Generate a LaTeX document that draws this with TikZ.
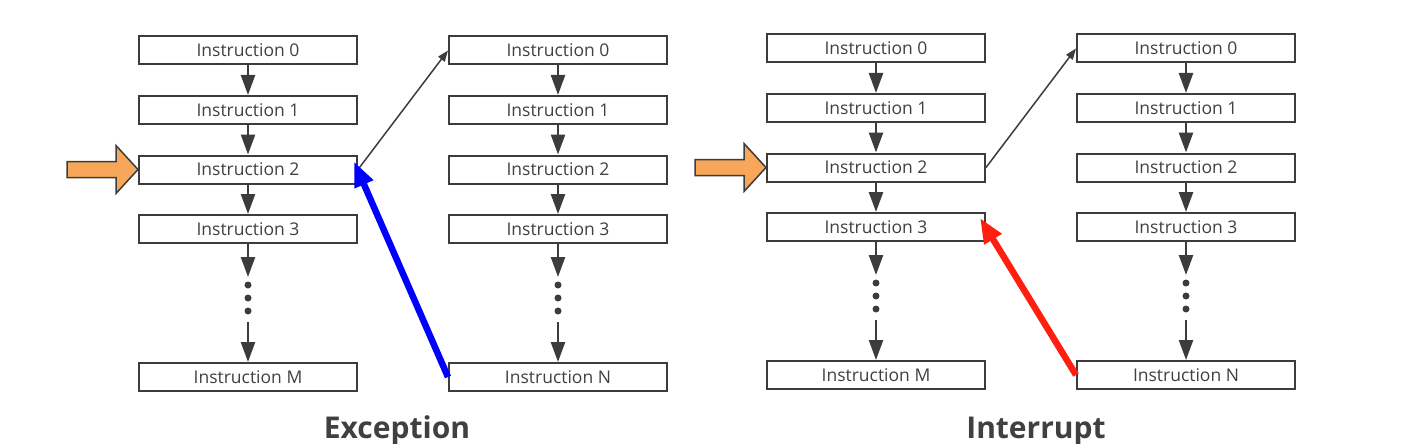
\documentclass[tikz,border=0pt]{standalone}
\usepackage{fontspec}
\setmainfont{Open Sans}
\usetikzlibrary{arrows.meta,calc}
\definecolor{boxgray}{HTML}{3C3C3C}
\definecolor{txtgray}{HTML}{404040}
\definecolor{pointer}{HTML}{F7A65A}
\definecolor{excblue}{HTML}{0000FF}
\definecolor{intred}{HTML}{FF1E0F}
\begin{document}
\begin{tikzpicture}[x=1pt, y=-1pt,
    instr/.style={draw=boxgray, line width=2pt, fill=white, minimum width=218pt,
      minimum height=28pt, inner sep=0pt, text=txtgray, font=\fontsize{17.5}{17.5}\selectfont},
    flow/.style={draw=boxgray, line width=2.5pt, -{Triangle[length=20pt,width=14pt]}},
    jump/.style={draw=boxgray, line width=1.5pt, -{Triangle[length=11pt,width=8pt]}},
    back/.style={line width=6.5pt, -{Triangle[length=25pt,width=19pt]}},
    title/.style={font=\bfseries\fontsize{30}{30}\selectfont, text=txtgray, anchor=base}]
  \useasboundingbox (0,0) rectangle (1424,444);
  % instruction columns
  \foreach \col/\cx/\dy/\last in {A/248/0/M, B/558/0/N, C/876/-2/M, D/1186/-2/N} {
    \foreach \r in {0,...,3}
      \node[instr] (\col\r) at (\cx, \dy+50.5+59.5*\r) {Instruction \r};
    \node[instr] (\col L) at (\cx, \dy+377) {Instruction \last};
    \foreach \r/\s in {0/1, 1/2, 2/3}
      \draw[flow] (\col\r) -- (\col\s);
    \coordinate (\col d) at (\cx, \dy+277);
    \coordinate (\col u) at (\cx, \dy+322);
    \draw[flow] (\col3) -- (\col d);
    \foreach \k in {0,1,2}
      \fill[boxgray] (\cx, \dy+285+13*\k) circle (3.5pt);
    \draw[flow] (\col u) -- (\col L);
  }
  % current instruction
  \foreach \n in {A2, C2}
    \draw[draw=boxgray, fill=pointer, line width=1.5pt] (\n.west) -- ++(-22,-24) -- ++(0,16)
      -- ++(-49,0) -- ++(0,16) -- ++(49,0) -- ++(0,16) -- cycle;
  % handler jumps
  \draw[jump] (A2.east) -- (B0.west);
  \draw[jump] (C2.east) -- (D0.west);
  % return
  \draw[back, excblue] (BL.west) -- ($(A2.north east)+(-4,7)$);
  \draw[back, intred] (DL.west) -- ($(C3.north east)+(-6,6)$);
  \node[title] (exc) at (397,438) {Exception};
  \node[title] (intr) at (1036,438) {Interrupt};
\end{tikzpicture}
\end{document}
